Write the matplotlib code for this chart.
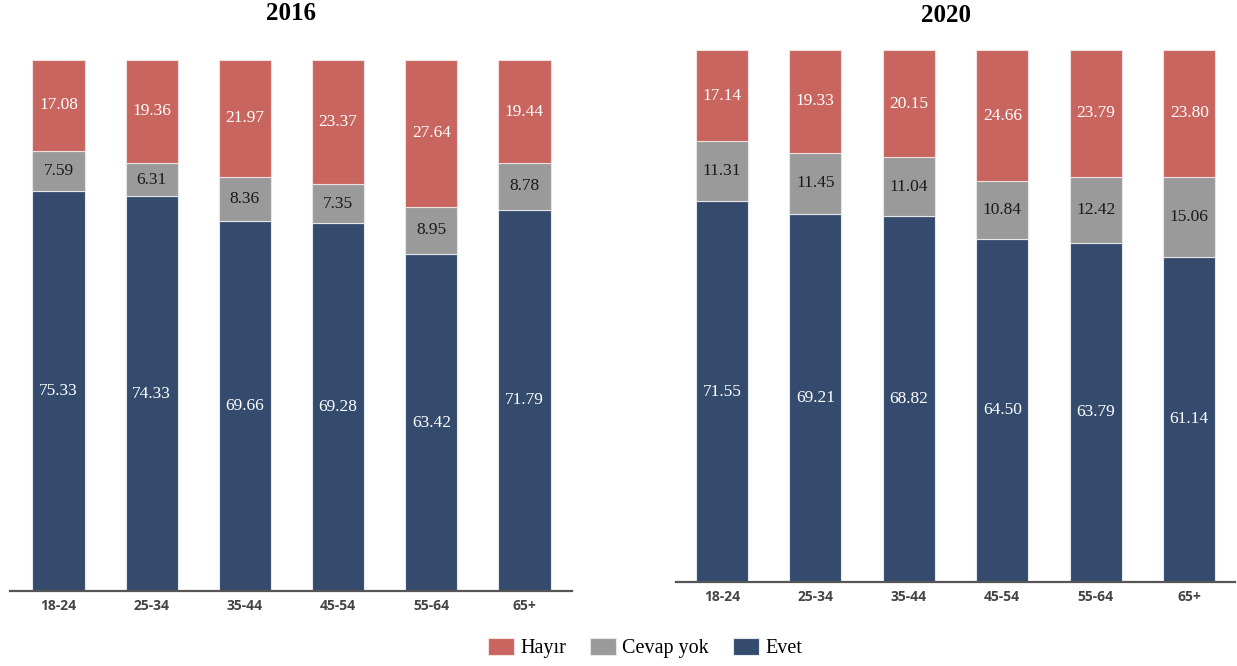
import matplotlib.pyplot as plt
import numpy as np

# yas gruplari ve yanit paylari (%)
yas_gruplari = ["18-24", "25-34", "35-44", "45-54", "55-64", "65+"]

evet_2016 = [75.33, 74.33, 69.66, 69.28, 63.42, 71.79]
cevap_yok_2016 = [7.59, 6.31, 8.36, 7.35, 8.95, 8.78]
hayir_2016 = [17.08, 19.36, 21.97, 23.37, 27.64, 19.44]

evet_2020 = [71.55, 69.21, 68.82, 64.50, 63.79, 61.14]
cevap_yok_2020 = [11.31, 11.45, 11.04, 10.84, 12.42, 15.06]
hayir_2020 = [17.14, 19.33, 20.15, 24.66, 23.79, 23.80]

renk_hayir = "#C8655F"
renk_cevap = "#9A9A9A"
renk_evet = "#344B6E"

serif = "Liberation Serif"


def yigilmis_grafik(ax, evet, cevap, hayir, xlim):
    x = np.arange(len(yas_gruplari))
    w = 0.56
    b1 = ax.bar(x, evet, w, color=renk_evet, edgecolor="#e6e9ee", linewidth=0.8, label="Evet")
    b2 = ax.bar(x, cevap, w, bottom=evet, color=renk_cevap, edgecolor="#e6e6e6", linewidth=0.8, label="Cevap yok")
    alt = np.array(evet) + np.array(cevap)
    b3 = ax.bar(x, hayir, w, bottom=alt, color=renk_hayir, edgecolor="#f0e0e0", linewidth=0.8, label="Hayır")

    for i in range(len(x)):
        ax.text(x[i], evet[i] / 2, "%.2f" % evet[i], ha="center", va="center",
                color="white", fontsize=12.5, family=serif)
        ax.text(x[i], evet[i] + cevap[i] / 2, "%.2f" % cevap[i], ha="center", va="center",
                color="#1a1a1a", fontsize=12.5, family=serif)
        ax.text(x[i], alt[i] + hayir[i] / 2, "%.2f" % hayir[i], ha="center", va="center",
                color="white", fontsize=12.5, family=serif)

    ax.set_xlim(*xlim)
    ax.set_ylim(0, 100)
    ax.set_xticks(x)
    ax.set_xticklabels(yas_gruplari, fontsize=10, fontweight="bold", color="#444444", family="Open Sans")
    ax.tick_params(axis="x", length=0, pad=6)
    ax.set_yticks([])
    for s in ["top", "left", "right"]:
        ax.spines[s].set_visible(False)
    ax.spines["bottom"].set_color("#555555")
    ax.spines["bottom"].set_linewidth(1.6)
    return b3, b2, b1


fig = plt.figure(figsize=(12.37, 6.66), dpi=100)
ax1 = fig.add_axes([0.0081, 0.1126, 0.4543, 0.7973])
ax2 = fig.add_axes([0.5465, 0.1261, 0.4519, 0.7988])

handles = yigilmis_grafik(ax1, evet_2016, cevap_yok_2016, hayir_2016, (-0.52, 5.51))
yigilmis_grafik(ax2, evet_2020, cevap_yok_2020, hayir_2020, (-0.49, 5.49))

fig.text(291 / 1237, 1 - 14 / 666, "2016", ha="center", va="center",
         fontsize=18, fontweight="bold", family=serif)
fig.text(946 / 1237, 1 - 16 / 666, "2020", ha="center", va="center",
         fontsize=18, fontweight="bold", family=serif)

fig.legend(handles, ["Hayır", "Cevap yok", "Evet"], loc="center",
           bbox_to_anchor=(645 / 1237, 18 / 666), ncol=3, frameon=False,
           prop={"family": serif, "size": 14.5}, handlelength=1.3, handleheight=0.9,
           handletextpad=0.3, columnspacing=1.2)

fig.savefig("out.png", dpi=100)
